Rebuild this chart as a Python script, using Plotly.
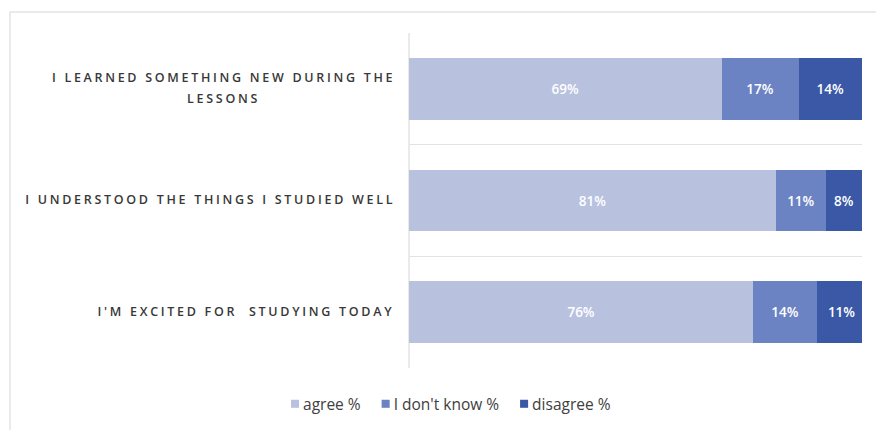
import plotly.graph_objects as go

categories = ["I LEARNED SOMETHING NEW DURING THE<br>LESSONS",
              "I UNDERSTOOD THE THINGS I STUDIED WELL",
              "I'M EXCITED FOR  STUDYING TODAY"]
series_names = ["agree %", "I don't know %", "disagree %"]
agree = [69, 81, 76]
dont_know = [17, 11, 14]
disagree = [14, 8, 11]
colors = ["#b8c2df", "#6b83c3", "#3a58a6"]

W, H = 876, 430
L, R, T, B = 409, 14, 33, 62
pw, ph = W - L - R, H - T - B

ypos = [2, 1, 0]

fig = go.Figure()
for name, vals, col in zip(series_names, [agree, dont_know, disagree], colors):
    fig.add_trace(go.Bar(
        y=ypos, x=vals, name=name, orientation="h",
        marker=dict(color=col, line=dict(width=0)),
        text=[f"{v}%" for v in vals], textposition="inside",
        insidetextanchor="middle",
        textfont=dict(color="white", size=13.5, family="Open Sans", weight=600),
        hoverinfo="skip",
    ))

annotations = []
for cat, y in zip(categories, ypos):
    annotations.append(dict(
        x=0, xref="paper", y=y, yref="y", xanchor="right", yanchor="middle",
        xshift=-15, yshift=1, text=cat, showarrow=False, align="center",
        font=dict(family="Open Sans", size=12.5, color="#383838", weight=600),
    ))

def px_x(p):
    return (p - L) / pw

def px_y(p):
    return (H - B - p) / ph

shapes = [
    dict(type="rect", xref="paper", yref="paper",
         x0=px_x(10), x1=px_x(890), y0=px_y(445), y1=px_y(12),
         line=dict(color="#e3e3e3", width=1.5), fillcolor="rgba(0,0,0,0)", layer="below"),
    dict(type="line", xref="paper", yref="paper", x0=0, x1=0, y0=0, y1=1,
         line=dict(color="#e6e2e2", width=1.5), layer="below"),
]

fig.update_layout(
    width=W, height=H,
    margin=dict(l=L, r=R, t=T, b=B),
    paper_bgcolor="white", plot_bgcolor="white",
    barmode="stack", bargap=0.45,
    xaxis=dict(range=[0, 100], showgrid=False, showticklabels=False, zeroline=False,
               showline=False, fixedrange=True),
    yaxis=dict(range=[-0.5, 2.5], tickvals=[-0.5, 0.5, 1.5, 2.5], showticklabels=False,
               showgrid=True, gridcolor="#e6e2e2", gridwidth=1.5, zeroline=False,
               showline=False, ticks="", fixedrange=True),
    showlegend=True,
    legend=dict(orientation="h", xref="container", yref="container", x=0.508, y=0.06,
                xanchor="center", yanchor="middle",
                font=dict(family="Open Sans", size=15.5, color="#404040"),
                itemwidth=30, tracegroupgap=0, traceorder="normal"),
    annotations=annotations,
    shapes=shapes,
    uniformtext=dict(minsize=10, mode="show"),
)

post_script = """
document.body.style.margin = '0';
var gd = document.getElementById('{plot_id}');
var texts = gd.querySelectorAll('g.annotation text.annotation-text');
texts.forEach(function (t) {
  var lines = t.querySelectorAll('tspan.line');
  if (lines.length > 1) {
    for (var i = 1; i < lines.length; i++) {
      lines[i].setAttribute('dy', '21px');
    }
  }
  var b0 = t.getBBox();
  t.style.letterSpacing = '2.7px';
  var b1 = t.getBBox();
  var dx = (b0.x + b0.width) - (b1.x + b1.width) + 2.7;
  var dy = 0;
  if (lines.length > 1) { dy = -2.5; }
  t.setAttribute('transform', 'translate(' + dx + ',' + dy + ')');
});
/* legend: smaller squares, tighter spacing */
gd.querySelectorAll('g.legend g.scrollbox').forEach(function (s) { s.removeAttribute('clip-path'); });
gd.querySelectorAll('g.legend').forEach(function (s) { s.removeAttribute('clip-path'); });
var items = Array.prototype.slice.call(gd.querySelectorAll('g.legend g.traces'));
var xs = [];
var ys = [];
var x = 0;
items.forEach(function (g) {
  g.querySelectorAll('g.legendpoints path').forEach(function (p) {
    p.setAttribute('transform', 'translate(32,0) scale(0.67)');
  });
  var tr = g.getAttribute('transform') || '';
  var m = tr.match(/translate\\(([-\\d.e]+)[ ,]+([-\\d.e]+)\\)/);
  ys.push(m ? parseFloat(m[2]) : 0);
  xs.push(x);
  var txt = g.querySelector('text.legendtext');
  x += txt.getComputedTextLength() + 33;
});
items.forEach(function (g, i) {
  g.setAttribute('transform', 'translate(' + xs[i] + ',' + ys[i] + ')');
});
if (items.length) {
  var p0 = items[0].querySelector('g.legendpoints path');
  var left = p0.getBoundingClientRect().left;
  var delta = 291 - left;
  items.forEach(function (g, i) {
    g.setAttribute('transform', 'translate(' + (xs[i] + delta) + ',' + ys[i] + ')');
  });
}
"""

fig.write_html("out.html", post_script=post_script,
               config={"displayModeBar": False, "staticPlot": True})
